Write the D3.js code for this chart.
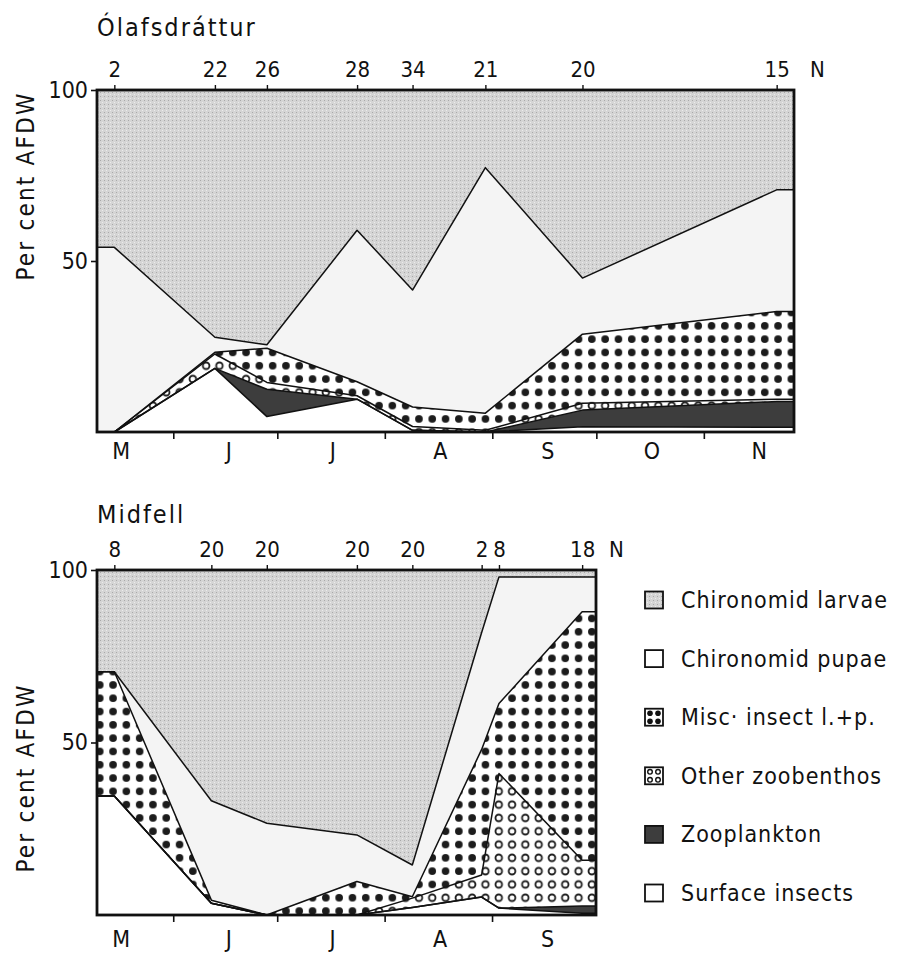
<!DOCTYPE html>
<html>
<head>
<meta charset="utf-8">
<script src="https://cdn.jsdelivr.net/npm/d3@7"></script>
<style>
    body { margin: 0; background: #fff; }
    svg text { font-family: "DejaVu Sans Condensed", "DejaVu Sans", sans-serif; fill: #111; }
</style>
</head>
<body>
<svg id="chart" width="902" height="953"></svg>
<script>

// Ólafsdráttur - sampling dates, sample sizes (N) and per cent AFDW of each food item
var olafDates = ['1979-05-15', '1979-06-13', '1979-06-28', '1979-07-24', '1979-08-09', '1979-08-30', '1979-09-27', '1979-11-22'];
var olafN = [2, 22, 26, 28, 34, 21, 20, 15];
var olafSurface = [0, 18.6, 4.5, 9.6, 0.5, 0, 1.5, 1.4];
var olafZoo = [0, 0, 8, 0, 0, 0, 4.9, 7.5];
var olafOther = [0, 4.2, 2, 1, 1.1, 0.5, 2, 0.7];
var olafMisc = [0, 0.5, 10, 4.1, 5.7, 5, 20.2, 25.6];
var olafPupae = [54, 4.4, 1, 44.3, 34.2, 71.8, 16.4, 35.6];
var olafLarvae = [46, 72.3, 74.5, 41, 58.5, 22.7, 55, 29.2];

// Midfell
var midDates = ['1979-05-15', '1979-06-12', '1979-06-28', '1979-07-24', '1979-08-09', '1979-08-29', '1979-09-03', '1979-09-27'];
var midN = [8, 20, 20, 20, 20, 2, 8, 18];
var midSurface = [34.5, 3.4, 0, 0, 2.2, 5.2, 2, 0.5];
var midZoo = [0, 0, 0, 0, 0, 0, 0, 2.1];
var midOther = [0, 0, 0, 0, 2.7, 6.4, 39, 13.3];
var midMisc = [36, 0.9, 0, 9.7, 0.4, 36.4, 20.3, 72];
var midPupae = [0, 28.8, 26.6, 13.5, 9.2, 33.9, 36.7, 10.1];
var midLarvae = [29.5, 66.9, 73.4, 76.8, 85.5, 18.1, 2, 2];

var monthLabels = ['M', 'J', 'J', 'A', 'S', 'O', 'N'];
var yTicks = [50, 100];

// stacking order, bottom to top
var keys = ['surface', 'zoo', 'other', 'misc', 'pupae', 'larvae'];
var legendLabels = ['Chironomid larvae', 'Chironomid pupae', 'Misc\u00b7 insect l.+p.', 'Other zoobenthos', 'Zooplankton', 'Surface insects'];

var font = '"DejaVu Sans Condensed", "DejaVu Sans", sans-serif';

var svg = d3.select('#chart');
var parse = d3.timeParse('%Y-%m-%d');
var start = parse('1979-05-10');

var defs = svg.append('defs');

var stipple = defs.append('pattern')
    .attr('id', 'stipple')
    .attr('patternUnits', 'userSpaceOnUse')
    .attr('width', 4)
    .attr('height', 4);
stipple.append('rect').attr('width', 4).attr('height', 4).attr('fill', '#d5d5d5');
stipple.append('rect').attr('x', 0).attr('y', 0).attr('width', 1).attr('height', 1).attr('fill', '#a9a9a9');
stipple.append('rect').attr('x', 2).attr('y', 2).attr('width', 1).attr('height', 1).attr('fill', '#ececec');

var dots = defs.append('pattern')
    .attr('id', 'dots')
    .attr('patternUnits', 'userSpaceOnUse')
    .attr('width', 13.3)
    .attr('height', 13.3);
dots.append('rect').attr('width', 13.3).attr('height', 13.3).attr('fill', '#fff');
dots.append('circle').attr('cx', 6.65).attr('cy', 6.65).attr('r', 3.8).attr('fill', '#1c1c1c');

var rings = defs.append('pattern')
    .attr('id', 'rings')
    .attr('patternUnits', 'userSpaceOnUse')
    .attr('width', 13.3)
    .attr('height', 13.3);
rings.append('rect').attr('width', 13.3).attr('height', 13.3).attr('fill', '#fff');
rings.append('circle').attr('cx', 6.65).attr('cy', 6.65).attr('r', 3.3)
    .attr('fill', '#fff').attr('stroke', '#1c1c1c').attr('stroke-width', 1.8);

var fills = {
    surface: '#ffffff',
    zoo: '#3d3d3d',
    other: 'url(#rings)',
    misc: 'url(#dots)',
    pupae: '#f4f4f4',
    larvae: 'url(#stipple)'
};

var drawPanel = function (p) {

    var x = d3.scaleTime().domain([start, p.end]).range([p.left, p.right]),
        y = d3.scaleLinear().domain([0, 100]).range([p.bottom, p.top]);

    var rows = p.dates.map(function (d, i) {
        var r = { date: parse(d) };
        keys.forEach(function (k) { r[k] = p.series[k][i]; });
        return r;
    });

    // first and last samples are carried flat to the frame edges
    rows = [Object.assign({}, rows[0], { date: start })]
        .concat(rows, [Object.assign({}, rows[rows.length - 1], { date: p.end })]);

    var layers = d3.stack().keys(keys)(rows);

    var area = d3.area()
        .x(function (d) { return x(d.data.date); })
        .y0(function (d) { return y(d[0]); })
        .y1(function (d) { return y(d[1]); });

    var edge = d3.line()
        .x(function (d) { return x(d.data.date); })
        .y(function (d) { return y(d[1]); });

    var g = svg.append('g');

    g.selectAll('.layer')
        .data(layers)
        .enter().append('path')
        .attr('class', 'layer')
        .attr('d', area)
        .attr('fill', function (d) { return fills[d.key]; });

    g.selectAll('.edge')
        .data(layers.slice(0, -1))
        .enter().append('path')
        .attr('class', 'edge')
        .attr('d', edge)
        .attr('fill', 'none')
        .attr('stroke', '#111')
        .attr('stroke-width', 1.5)
        .attr('stroke-linejoin', 'round');

    g.append('rect')
        .attr('x', p.left)
        .attr('y', p.top)
        .attr('width', p.right - p.left)
        .attr('height', p.bottom - p.top)
        .attr('fill', 'none')
        .attr('stroke', '#111')
        .attr('stroke-width', 2.8);

    // month boundaries
    var monthAxis = g.append('g')
        .attr('transform', 'translate(0,' + p.bottom + ')')
        .call(d3.axisBottom(x)
            .tickValues(d3.timeMonth.range(d3.timeDay.offset(start, 1), p.end))
            .tickSize(7)
            .tickFormat(''));
    monthAxis.select('.domain').remove();
    monthAxis.selectAll('line').attr('stroke', '#111').attr('stroke-width', 1.6);

    d3.timeMonth.range(d3.timeMonth.floor(start), p.end).forEach(function (m, i) {
        g.append('text')
            .attr('x', x(d3.timeDay.offset(m, 16)))
            .attr('y', p.bottom + p.monthDY)
            .attr('text-anchor', 'middle')
            .attr('font-size', 23)
            .text(monthLabels[i]);
    });

    // sampling dates with N
    var nAxis = g.append('g')
        .attr('transform', 'translate(0,' + p.top + ')')
        .call(d3.axisTop(x)
            .tickValues(p.dates.map(parse))
            .tickSize(5)
            .tickPadding(8)
            .tickFormat(function (d, i) { return p.n[i]; }));
    nAxis.select('.domain').remove();
    nAxis.selectAll('line').attr('stroke', '#111').attr('stroke-width', 1.4);
    nAxis.selectAll('text').attr('font-size', 22).attr('fill', '#111').attr('font-family', font);

    g.append('text')
        .attr('x', p.nX)
        .attr('y', p.top - 13)
        .attr('font-size', 22)
        .text('N');

    var yAxis = g.append('g')
        .attr('transform', 'translate(' + p.left + ',0)')
        .call(d3.axisLeft(y).tickValues(yTicks).tickSize(6).tickPadding(3));
    yAxis.select('.domain').remove();
    yAxis.selectAll('line').attr('stroke', '#111').attr('stroke-width', 1.6);
    yAxis.selectAll('text').attr('font-size', 23).attr('fill', '#111').attr('font-family', font);

    g.append('text')
        .attr('transform', 'translate(34,' + p.labelY + ') rotate(-90)')
        .attr('text-anchor', 'middle')
        .attr('font-size', 24)
        .attr('letter-spacing', 2.2)
        .text('Per cent AFDW');

    g.append('text')
        .attr('x', p.left)
        .attr('y', p.titleY)
        .attr('font-size', 25)
        .attr('letter-spacing', 2)
        .text(p.title);

};

drawPanel({
    title: '\u00d3lafsdr\u00e1ttur',
    titleY: 36,
    left: 97, right: 794, top: 90, bottom: 432,
    end: parse('1979-11-27'),
    monthDY: 27,
    nX: 810,
    labelY: 186,
    dates: olafDates,
    n: olafN,
    series: { surface: olafSurface, zoo: olafZoo, other: olafOther, misc: olafMisc, pupae: olafPupae, larvae: olafLarvae }
});

drawPanel({
    title: 'Midfell',
    titleY: 523,
    left: 97, right: 596, top: 570, bottom: 915,
    end: parse('1979-10-01'),
    monthDY: 32,
    nX: 609,
    labelY: 778,
    dates: midDates,
    n: midN,
    series: { surface: midSurface, zoo: midZoo, other: midOther, misc: midMisc, pupae: midPupae, larvae: midLarvae }
});

// legend, top to bottom
var legendFills = ['url(#stipple)', '#fff', '#fff', '#fff', '#3d3d3d', '#fff'];
var legend = svg.append('g')
    .selectAll('.legend')
    .data(legendLabels)
    .enter().append('g')
    .attr('class', 'legend')
    .attr('transform', function (d, i) { return 'translate(645,' + (600 + i * 58.6) + ')'; });

legend.append('rect')
    .attr('x', 0)
    .attr('y', -8.5)
    .attr('width', 18)
    .attr('height', 17)
    .attr('fill', function (d, i) { return legendFills[i]; })
    .attr('stroke', '#111')
    .attr('stroke-width', 1.8);

legend.each(function (d, i) {
    if (i !== 2 && i !== 3) return;
    var cell = d3.select(this);
    [[5, -4], [13, -4], [5, 4], [13, 4]].forEach(function (c) {
        cell.append('circle')
            .attr('cx', c[0])
            .attr('cy', c[1])
            .attr('r', i === 2 ? 2.8 : 2.3)
            .attr('fill', i === 2 ? '#111' : '#fff')
            .attr('stroke', '#111')
            .attr('stroke-width', i === 2 ? 0 : 1.4);
    });
});

legend.append('text')
    .attr('x', 36)
    .attr('y', 0)
    .attr('dy', '0.35em')
    .attr('font-size', 23)
    .attr('letter-spacing', 1)
    .text(function (d) { return d; });

</script>
</body>
</html>
